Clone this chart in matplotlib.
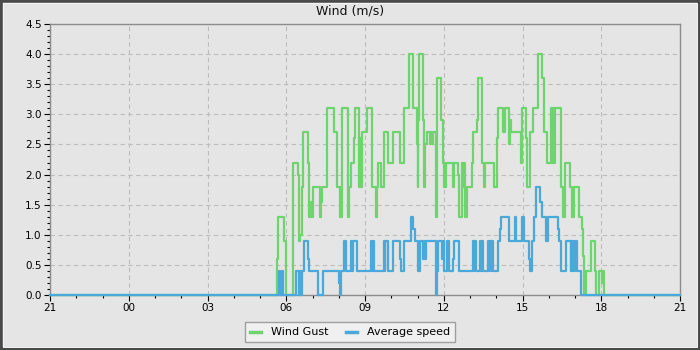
import matplotlib
matplotlib.use("Agg")
import matplotlib.pyplot as plt
from matplotlib.patches import Rectangle
from matplotlib.ticker import MultipleLocator

# ---- data (minutes after 21:00, value in m/s; step changes) ----
gust_t = [0, 518, 520, 534, 539, 556, 567, 569, 572, 575, 579, 590, 593, 596, 598,
          600.4, 617, 620, 622.5, 634, 649, 657, 662, 664, 666, 668, 680, 683, 687,
          694, 698, 707, 709, 711, 713, 725, 737, 744, 747, 749, 757, 763, 772, 783,
          800, 809, 820.5, 829, 838, 840, 842, 844, 853, 855, 858, 861, 868.5, 871,
          874, 876, 882, 884.5, 893, 899, 901, 906, 920, 923, 933, 935.6, 941, 945,
          947, 948.6, 952, 954, 964, 966, 975, 978, 987.5, 993, 995, 1015.6, 1022.5,
          1025, 1034.7, 1036, 1039, 1041, 1048, 1051, 1053, 1076.5, 1079.6, 1088,
          1091, 1097, 1104.7, 1114.6, 1125.3, 1130, 1135, 1144, 1146.7, 1149, 1152,
          1154, 1168, 1173, 1177, 1188.6, 1192.4, 1194.7, 1196.2, 1198.5, 1210, 1217,
          1219, 1220.6, 1225, 1236, 1246, 1247.3, 1255.7, 1261, 1263.3, 1266.3, 1440]
gust_v = [0, 0.6, 1.3, 0.9, 0, 2.2, 2.0, 0.9, 1.0, 1.8, 2.7, 2.2, 1.3, 1.55, 1.3,
          1.8, 1.3, 1.55, 1.8, 3.1, 2.7, 1.8, 1.3, 1.55, 1.3, 3.1, 1.3, 1.8, 2.2,
          2.6, 3.1, 1.8, 2.6, 1.8, 2.7, 3.1, 1.8, 1.3, 1.8, 2.2, 1.8, 2.7, 2.2, 2.7,
          2.2, 3.1, 4.0, 3.1, 2.5, 1.8, 2.9, 4.0, 2.9, 1.8, 2.5, 2.7, 2.5, 2.7,
          2.5, 2.7, 1.3, 3.6, 2.9, 2.2, 1.8, 2.2, 1.8, 2.2, 2.0, 1.3, 2.2, 1.8,
          2.2, 1.3, 1.55, 1.8, 2.2, 2.7, 2.9, 3.6, 2.2, 1.8, 2.2, 1.8, 2.6,
          3.1, 2.9, 2.7, 2.9, 3.1, 2.5, 2.9, 2.7, 2.2, 3.1, 2.6,
          1.8, 2.7, 3.1, 4.0, 3.6, 2.7, 2.2, 3.1, 2.2, 3.1, 2.2,
          3.1, 1.8, 1.3, 2.2, 1.8, 1.3, 1.55, 1.3, 1.8, 1.3, 1.1,
          0.65, 0, 0.4, 0.9, 0.4, 0, 0.4, 0.2, 0.4, 0, 0]

avg_t = [0, 524, 526, 529.6, 532, 561.6, 570, 572, 574, 577, 581.4, 590.5, 592.8,
         613.4, 624.8, 660, 662, 665, 671, 677, 688.6, 691, 692.4, 701.6, 734.3,
         736.6, 738.2, 740.4, 762.5, 764.8, 766.3, 772.4, 783, 800, 802, 809, 824.4,
         830.4, 833.5, 842, 845.7, 851.8, 854.8, 857, 859.4, 882.3, 885.3, 887.6,
         895, 897.5, 900.5, 906.7, 912, 922, 924, 935.6, 966, 968.4, 970, 973, 983,
         985.2, 987.5, 990.5, 1002, 1004.2, 1005.7, 1009.6, 1011, 1012.6, 1024.8,
         1028.6, 1030, 1050, 1062.8, 1065, 1079.6, 1083.4, 1095.6, 1097, 1101,
         1106.3, 1110.8, 1120, 1123.8, 1133, 1139, 1162, 1164, 1167, 1179.4, 1190,
         1191.6, 1194, 1195.5, 1197.7, 1199.3, 1203.8, 1213, 1440]
avg_v = [0, 0.4, 0, 0.4, 0, 0.4, 0, 0.4, 0, 0.4, 0.9, 0.6, 0.4,
         0, 0.4, 0.2, 0, 0.4, 0.9, 0.4, 0.9, 0.4, 0.9, 0.4, 0.9,
         0.4, 0.9, 0.4, 0.9, 0.4, 0.9, 0.4, 0.9, 0.6, 0.4, 0.9, 1.3,
         1.1, 0.9, 0.4, 0.9, 0.6, 0.9, 0.6, 0.9, 0, 0.4, 0.9,
         0.6, 0.9, 0.4, 0.9, 0.4, 0.6, 0.9, 0.4, 0.9, 0.4, 0.9, 0.4, 0.9,
         0.4, 0.9, 0.4, 0.9, 0.4, 0.9, 0.4, 0.9, 0.4, 0.9,
         1.1, 1.3, 0.9, 1.3, 0.9, 1.3, 0.9, 0.6, 0.4, 0.9,
         1.3, 1.8, 1.55, 1.3, 0.9, 1.3, 1.1, 0.9, 0.4, 0.9, 0.4,
         0.9, 0.4, 0.9, 0.4, 0.9, 0.4, 0, 0]

x_tick_labels = ["21", "00", "03", "06", "09", "12", "15", "18", "21"]
title = "Wind (m/s)"
series_names = ["Wind Gust", "Average speed"]

# ---- figure ----
bg = "#e5e5e5"
fig = plt.figure(figsize=(7, 3.5), dpi=100, facecolor=bg)
ax = fig.add_axes([50/700, 55/350, 630/700, 271/350], facecolor=bg)

green = "#6ed46e"
blue = "#4aa8da"
ax.plot(gust_t, gust_v, drawstyle="steps-post", color=green, lw=1.6,
        label=series_names[0], clip_on=False, zorder=3)
ax.plot(avg_t, avg_v, drawstyle="steps-post", color=blue, lw=1.6,
        label=series_names[1], clip_on=False, zorder=4)

ax.set_xlim(0, 1440)
ax.set_ylim(0, 4.5)
ax.set_xticks([i * 180 for i in range(len(x_tick_labels))])
ax.set_xticklabels(x_tick_labels)
ax.xaxis.set_minor_locator(MultipleLocator(60))
ax.yaxis.set_major_locator(MultipleLocator(0.5))
ax.yaxis.set_minor_locator(MultipleLocator(0.1))
ax.yaxis.set_major_formatter(matplotlib.ticker.FormatStrFormatter("%.1f"))

ax.grid(True, which="major", color="#bdbdbd", linestyle=(0, (4, 3)), lw=0.8)
ax.set_axisbelow(True)
for s in ax.spines.values():
    s.set_color("#8c8c8c")
    s.set_linewidth(1.0)
ax.tick_params(which="major", length=4, width=0.8, color="black", labelsize=7.5, pad=2)
ax.tick_params(which="minor", length=2.5, width=0.8, color="black")

fig.text(0.5, 1 - 11/350, title, ha="center", va="center", fontsize=9, color="#111111")

leg = fig.legend(loc="lower center", bbox_to_anchor=(0.5, 2/350), ncol=2, fontsize=8,
                 frameon=True, fancybox=False, handlelength=1.0, handletextpad=0.9,
                 columnspacing=1.6, borderpad=0.45)
leg.get_frame().set_edgecolor("#8c8c8c")
leg.get_frame().set_facecolor("#f4f4f4")
leg.get_frame().set_linewidth(1.0)
for h in leg.get_lines():
    h.set_linewidth(2.5)

# outer border
fig.patches.append(Rectangle((0, 0), 1, 1, transform=fig.transFigure, fill=False,
                             edgecolor="#4a4a4a", lw=4, zorder=10))
fig.patches.append(Rectangle((3/700, 3/350), 694/700, 344/350, transform=fig.transFigure,
                             fill=False, edgecolor="#f6f6f6", lw=0.7, zorder=10))

fig.savefig("out.png", dpi=100, facecolor=bg)
